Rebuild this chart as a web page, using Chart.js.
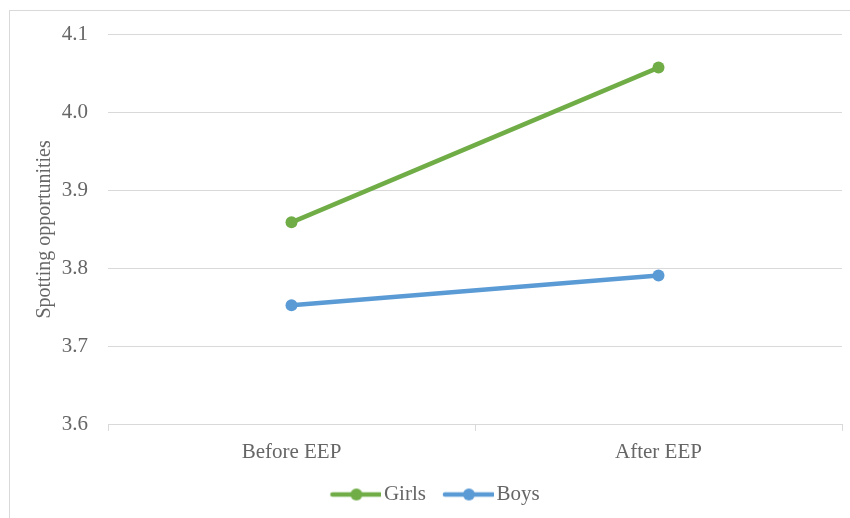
<!DOCTYPE html>
<html>
<head>
<meta charset="utf-8">
<script src="https://cdn.jsdelivr.net/npm/chart.js@4/dist/chart.umd.min.js"></script>
<style>
  html, body { margin: 0; padding: 0; background: #fff; }
  #wrap { position: relative; width: 850px; height: 518px; overflow: hidden; }
  #frame { position: absolute; left: 9px; top: 10px; width: 900px; height: 600px;
           border: 1px solid #d9d9d9; box-sizing: border-box; }
  #chart { position: absolute; left: 0; top: 0; }
</style>
</head>
<body>
<div id="wrap">
  <div id="frame"></div>
  <canvas id="chart" width="850" height="518"></canvas>
</div>
<script>
var categories = ['Before EEP', 'After EEP'];
var girls = [3.859, 4.057];
var boys = [3.753, 3.791];
var seriesNames = ['Girls', 'Boys'];
var seriesColors = ['#70ad47', '#5b9bd5'];

var textColor = '#666666';
var gridColor = '#d9d9d9';
var fontFamily = "'Liberation Serif', 'Times New Roman', serif";

// legend marker: line with a dot, pushed to the right edge so it sits close to the text
function legendMarker(color) {
    var c = document.createElement('canvas');
    c.width = 66;
    c.height = 14;
    var g = c.getContext('2d');
    g.strokeStyle = color;
    g.lineWidth = 4.5;
    g.lineCap = 'round';
    g.beginPath();
    g.moveTo(17, 7);
    g.lineTo(65, 7);
    g.stroke();
    g.fillStyle = color;
    g.beginPath();
    g.arc(41, 7, 6, 0, Math.PI * 2);
    g.fill();
    return c;
}

var markers = seriesColors.map(legendMarker);

function lineSet(i, values) {
    return {
        label: seriesNames[i],
        data: values,
        borderColor: seriesColors[i],
        backgroundColor: seriesColors[i],
        borderWidth: 4.5,
        pointStyle: 'circle',
        pointRadius: 6,
        pointHoverRadius: 6,
        pointBorderWidth: 0,
        tension: 0
    };
}

// nudge the legend a little to the left of the canvas centre
var legendShift = {
    id: 'legendShift',
    afterLayout: function (chart) {
        chart.legend.left -= 6;
        chart.legend.right -= 6;
    }
};

var ctx = document.getElementById('chart').getContext('2d');
var chart = new Chart(ctx, {
    type: 'line',
    data: {
        labels: categories,
        datasets: [lineSet(0, girls), lineSet(1, boys)]
    },
    plugins: [legendShift],
    options: {
        responsive: false,
        animation: false,
        layout: {
            padding: { left: 33, right: 8, top: 34, bottom: 3 }
        },
        plugins: {
            tooltip: { enabled: false },
            legend: {
                position: 'bottom',
                labels: {
                    usePointStyle: true,
                    pointStyleWidth: 50,
                    padding: 10,
                    color: textColor,
                    font: { family: fontFamily, size: 21 },
                    generateLabels: function (chart) {
                        return chart.data.datasets.map(function (ds, i) {
                            return {
                                text: ds.label,
                                fillStyle: ds.borderColor,
                                strokeStyle: ds.borderColor,
                                lineWidth: 0,
                                pointStyle: markers[i],
                                fontColor: textColor,
                                datasetIndex: i
                            };
                        });
                    }
                }
            }
        },
        scales: {
            x: {
                offset: true,
                grid: {
                    offset: true,
                    drawOnChartArea: false,
                    drawTicks: true,
                    tickLength: 6,
                    color: gridColor
                },
                border: { color: gridColor, width: 1 },
                ticks: {
                    color: textColor,
                    padding: 9,
                    font: { family: fontFamily, size: 21 }
                }
            },
            y: {
                min: 3.6,
                max: 4.1,
                afterFit: function (scale) { scale.width = 75; },
                grid: {
                    color: gridColor,
                    lineWidth: 1,
                    drawTicks: false
                },
                border: { display: false },
                ticks: {
                    stepSize: 0.1,
                    padding: 20,
                    color: textColor,
                    font: { family: fontFamily, size: 21 },
                    callback: function (v) { return v.toFixed(1); }
                },
                title: {
                    display: true,
                    text: 'Spotting opportunities',
                    color: textColor,
                    padding: { top: 0, bottom: 6 },
                    font: { family: fontFamily, size: 20 }
                }
            }
        }
    }
});
</script>
</body>
</html>
